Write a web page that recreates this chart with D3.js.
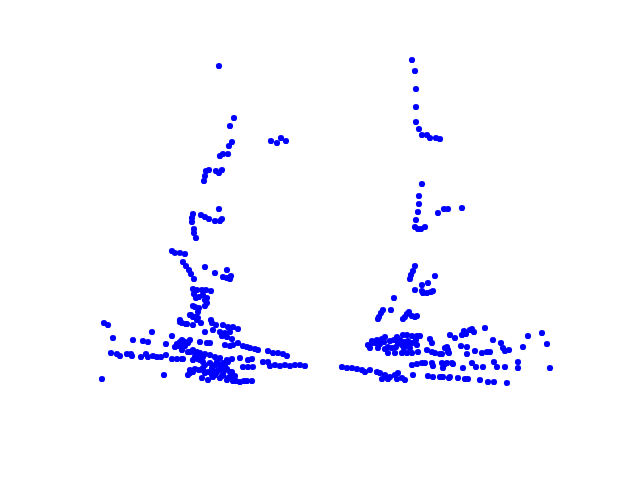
<!DOCTYPE html>
<html><head><meta charset="utf-8">
<script src="https://cdn.jsdelivr.net/npm/d3@7"></script>
<style>body{margin:0;background:#fff}svg{display:block}</style>
</head><body>
<script>
// Left cluster: x positions and heights (data units)
const leftX = [219,234,230,232,229,220,223,228,271,277,281,286,206,209,216,219,222,205,204,
219,193,192,192,201,205,209,215,220,222,194,194,196,172,175,180,185,183,186,189,191,194,205,215,227,223,227,231,230,
193,197,202,206,211,194,196,199,203,207,205,207,193,195,199,205,191,195,198,180,211,
104,108,113,152,133,143,148,166,172,180,186,111,117,120,127,131,132,141,146,148,153,157,161,166,172,177,183,102,164,
177,180,183,187,190,178,185,175,200,193,197,200,195,193,195,190,202,203,
190,193,197,198,182,187,193,201,212,216,223,228,233,238,205,213,220,225,230,222,227,232,182,185,188,183,207,210,
225,230,233,238,243,247,250,255,258,268,273,278,283,287,190,195,205,210,215,220,227,232,193,198,203,210,217,223,
240,248,252,243,248,253,263,268,270,275,280,285,290,295,300,305,182,190,203,212,217,222,227,232,
188,208,213,220,227,233,240,247,252,205,212,223,230,
215,220,225,228,212,218,224,230,208,215,222,228,235,200,205,199,236,244,182,188,198,203];
const leftY = [414,362,354,338,334,324,326,326,339,337,342,339,309,310,309,307,310,304,299,
271,266,262,258,265,263,261,259,259,261,251,247,242,229,227,227,226,218,214,210,206,201,213,207,210,203,202,204,201,
191,190,190,190,189,186,182,183,185,182,180,177,174,173,172,174,165,163,162,160,160,
157,155,142,148,140,139,138,136,144,158,156,127,126,124,126,126,124,123,126,123,124,123,123,125,121,121,121,101,105,
136,138,139,137,140,134,134,133,138,130,128,127,123,108,111,107,102,110,
165,163,160,168,157,156,155,157,157,155,155,153,153,151,148,150,148,147,148,144,143,141,140,138,137,133,137,137,
135,134,135,137,134,133,132,131,130,129,127,127,126,124,128,127,126,125,123,122,120,121,120,121,118,117,118,117,
122,120,121,113,113,113,118,118,114,115,114,115,114,115,115,114,121,110,112,110,108,110,111,108,
105,100,103,102,100,99,98,99,99,107,105,105,103,
115,115,114,118,112,110,109,108,108,105,104,102,104,120,115,110,99,99,130,128,125,123];

// Right cluster: x positions and heights (data units)
const rightX = [412,415,416,416,416,419,422,427,430,436,440,422,419,419,418,416,415,418,421,425,438,444,448,462,
415,413,411,410,435,422,428,415,422,423,427,431,433,394,383,381,379,378,391,409,407,405,403,412,415,417,
403,407,412,417,420,397,385,382,377,372,368,370,388,392,398,402,407,415,417,378,385,388,395,402,407,412,418,
430,432,427,432,435,440,450,447,448,412,417,422,425,432,433,442,447,452,428,433,440,443,450,
342,347,352,357,362,365,370,377,380,385,390,395,398,402,405,397,413,382,388,
455,462,464,466,470,472,474,485,493,501,503,505,509,528,542,547,523,445,448,449,442,461,467,467,475,482,487,490,
445,453,443,463,472,476,483,494,497,505,518,518,550,442,449,458,465,468,480,488,494,507,
372,376,380,384,390,394,400,404,408,412,416,396,404,410];
const rightY = [420,409,391,373,358,351,345,345,342,342,341,296,284,276,268,260,253,251,251,253,267,271,271,272,
214,209,205,201,204,195,197,190,189,187,187,188,189,182,170,167,163,161,170,168,166,163,161,164,163,164,
145,145,144,144,144,143,143,141,140,137,135,132,133,132,137,135,136,138,135,132,131,127,127,127,127,127,128,
141,137,130,128,127,126,145,133,128,115,116,117,117,117,114,117,117,117,104,103,103,103,103,
113,112,112,111,110,108,110,108,107,105,103,105,107,102,100,101,105,101,101,
142,145,149,146,150,151,148,152,140,137,132,129,130,144,147,136,133,132,130,127,126,134,133,126,129,127,128,128,
116,116,112,112,117,113,113,118,113,113,118,112,112,103,102,102,101,101,100,98,98,97,
139,137,136,138,139,140,140,138,139,137,140,133,132,132];

const W = 640, H = 480;
const svg = d3.select("body").append("svg").attr("width", W).attr("height", H);

// Axes area (axes hidden), matplotlib-like frame
const x = d3.scaleLinear().domain([80, 576]).range([80, 576]);
const y = d3.scaleLinear().domain([53, 422]).range([427, 58]);

const pts = leftX.map((v, i) => [v, leftY[i]])
  .concat(rightX.map((v, i) => [v, rightY[i]]));

svg.append("g").selectAll("circle").data(pts).join("circle")
  .attr("cx", d => x(d[0]))
  .attr("cy", d => y(d[1]))
  .attr("r", 3.1)
  .attr("fill", "#0000ff");
</script>
</body></html>
